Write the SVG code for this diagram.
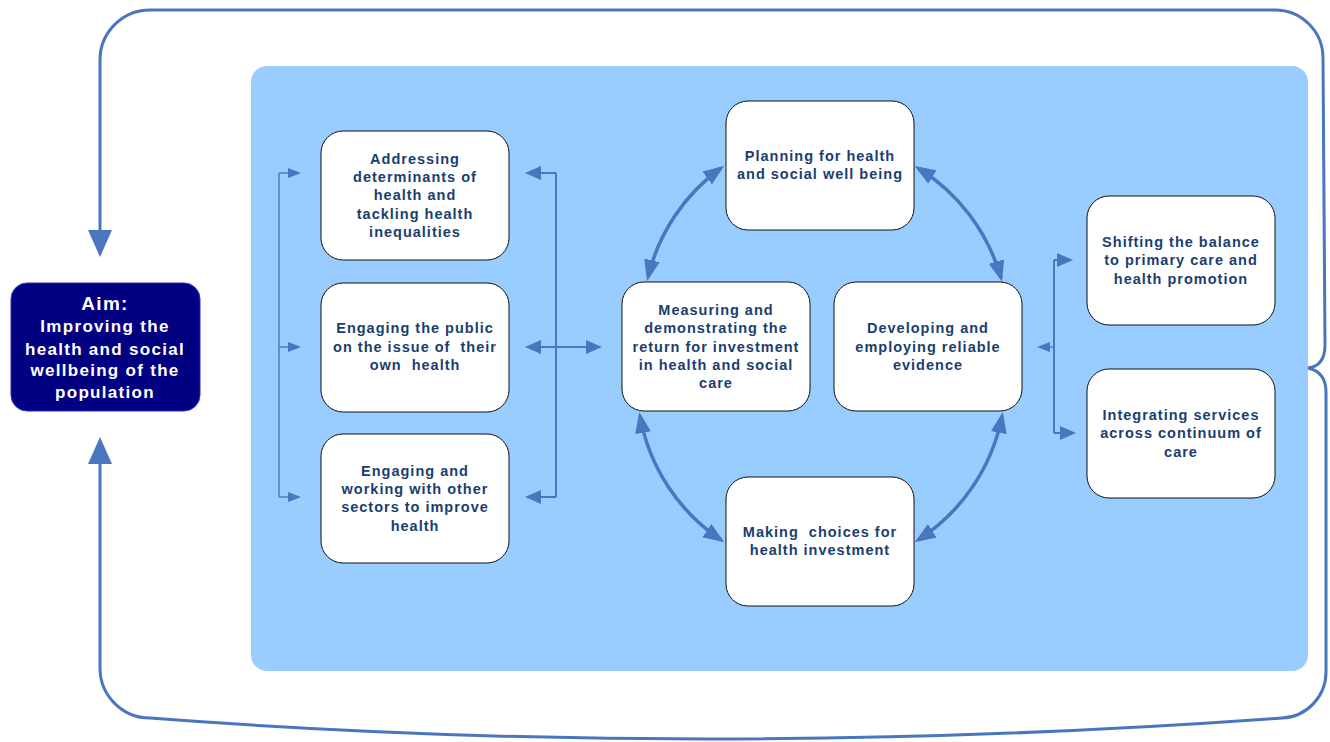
<svg xmlns="http://www.w3.org/2000/svg" width="1330" height="742" viewBox="0 0 1330 742">
<style>
.node rect{fill:#fff;stroke:#111;stroke-width:1}
.node text{font-family:"Liberation Sans",Arial,sans-serif;font-weight:bold;font-size:14.5px;fill:#1A3E70;text-anchor:middle;letter-spacing:1px;white-space:pre}
.aim text{font-family:"Liberation Sans",Arial,sans-serif;font-weight:bold;font-size:17px;fill:#fff;text-anchor:middle;letter-spacing:1.3px}
.loop{fill:none;stroke:#4A76C0;stroke-width:3}
.thin{fill:none;stroke:#4A76C0;stroke-width:1.4}
.mid{fill:none;stroke:#4A76C0;stroke-width:2}
.cyc{fill:none;stroke:#4A76C0;stroke-width:3.5}
</style>
<defs>
<marker id="big" markerUnits="userSpaceOnUse" markerWidth="30" markerHeight="30" refX="2" refY="12" orient="auto"><path d="M0,0 L27,12 L0,24 z" fill="#4A76C0"/></marker>
<marker id="sm" markerUnits="userSpaceOnUse" markerWidth="16" markerHeight="12" refX="1" refY="5" orient="auto"><path d="M0,0 L13,5 L0,10 z" fill="#4A76C0"/></marker>
<marker id="md" markerUnits="userSpaceOnUse" markerWidth="20" markerHeight="16" refX="1" refY="7" orient="auto"><path d="M0,0 L16,7 L0,14 z" fill="#4A76C0"/></marker>
<marker id="cy" markerUnits="userSpaceOnUse" markerWidth="24" markerHeight="20" refX="17" refY="8" orient="auto-start-reverse"><path d="M0,0 L21,8 L0,16 z" fill="#4A76C0"/></marker>
</defs>
<rect x="251" y="66" width="1057" height="605" rx="16" fill="#99CCFF"/>
<g id="connectors">
<path class="loop" d="M1308,368 Q1325,366 1325,345 L1323,58 A48,48 0 0 0 1275,10 L150,10 A50,50 0 0 0 100,60 L100,232" marker-end="url(#big)"/>
<path class="loop" d="M1308,368 Q1326,372 1326,392 L1326,672 A46,46 0 0 1 1282,718 Q700,760 150,718 A50,50 0 0 1 100,668 L100,462" marker-end="url(#big)"/>
<path class="thin" d="M279,173 L279,497"/>
<path class="thin" d="M279,173 L289,173" marker-end="url(#sm)"/>
<path class="thin" d="M279,347 L289,347" marker-end="url(#sm)"/>
<path class="thin" d="M279,497 L289,497" marker-end="url(#sm)"/>
<path class="mid" d="M556,173 L556,497"/>
<path class="mid" d="M556,173 L540,173" marker-end="url(#md)"/>
<path class="mid" d="M556,347 L540,347" marker-end="url(#md)"/>
<path class="mid" d="M556,497 L540,497" marker-end="url(#md)"/>
<path class="mid" d="M556,347 L587,347" marker-end="url(#md)"/>
<path class="mid" d="M1054,260 L1054,433"/>
<path class="mid" d="M1054,260 L1058,260" marker-end="url(#md)"/>
<path class="mid" d="M1054,433 L1061,433" marker-end="url(#md)"/>
<path class="thin" d="M1054,347 L1049,347" marker-end="url(#sm)"/>
<path class="cyc" d="M648,277 A190,190 0 0 1 721,168" marker-start="url(#cy)" marker-end="url(#cy)"/>
<path class="cyc" d="M918,168 A190,190 0 0 1 1001,278" marker-start="url(#cy)" marker-end="url(#cy)"/>
<path class="cyc" d="M1002,416 A190,190 0 0 1 918,540" marker-start="url(#cy)" marker-end="url(#cy)"/>
<path class="cyc" d="M721,540 A190,190 0 0 1 640,416" marker-start="url(#cy)" marker-end="url(#cy)"/>
</g>
<g id="aim" class="aim">
<rect x="11" y="283" width="189" height="128" rx="16" fill="#000080" stroke="#2B2BC8" stroke-width="1"/>
<text x="105" y="310" style="font-size:19px">Aim:</text>
<text x="105" y="332">Improving the</text>
<text x="105" y="355">health and social</text>
<text x="105" y="376">wellbeing of the</text>
<text x="105" y="398">population</text>
</g>
<g id="n-addressing" class="node">
<rect x="321" y="131" width="188" height="129" rx="22"/>
<text x="415" y="164">Addressing</text>
<text x="415" y="182">determinants of</text>
<text x="415" y="200">health and</text>
<text x="415" y="219">tackling health</text>
<text x="415" y="237">inequalities</text>
</g>
<g id="n-public" class="node">
<rect x="321" y="283" width="188" height="129" rx="22"/>
<text x="415" y="333">Engaging the public</text>
<text x="415" y="352">on the issue of  their</text>
<text x="415" y="370">own  health</text>
</g>
<g id="n-sectors" class="node">
<rect x="321" y="434" width="188" height="129" rx="22"/>
<text x="415" y="476">Engaging and</text>
<text x="415" y="494">working with other</text>
<text x="415" y="512">sectors to improve</text>
<text x="415" y="531">health</text>
</g>
<g id="n-planning" class="node">
<rect x="726" y="101" width="188" height="129" rx="22"/>
<text x="820" y="161">Planning for health</text>
<text x="820" y="179">and social well being</text>
</g>
<g id="n-measuring" class="node">
<rect x="622" y="282" width="188" height="129" rx="22"/>
<text x="716" y="315">Measuring and</text>
<text x="716" y="333">demonstrating the</text>
<text x="716" y="352">return for investment</text>
<text x="716" y="370">in health and social</text>
<text x="716" y="388">care</text>
</g>
<g id="n-developing" class="node">
<rect x="834" y="282" width="188" height="129" rx="22"/>
<text x="928" y="333">Developing and</text>
<text x="928" y="352">employing reliable</text>
<text x="928" y="370">evidence</text>
</g>
<g id="n-making" class="node">
<rect x="726" y="477" width="188" height="129" rx="22"/>
<text x="820" y="537">Making  choices for</text>
<text x="820" y="555">health investment</text>
</g>
<g id="n-shifting" class="node">
<rect x="1087" y="196" width="188" height="129" rx="22"/>
<text x="1181" y="247">Shifting the balance</text>
<text x="1181" y="265">to primary care and</text>
<text x="1181" y="284">health promotion</text>
</g>
<g id="n-integrating" class="node">
<rect x="1087" y="369" width="188" height="129" rx="22"/>
<text x="1181" y="420">Integrating services</text>
<text x="1181" y="438">across continuum of</text>
<text x="1181" y="457">care</text>
</g>
</svg>
